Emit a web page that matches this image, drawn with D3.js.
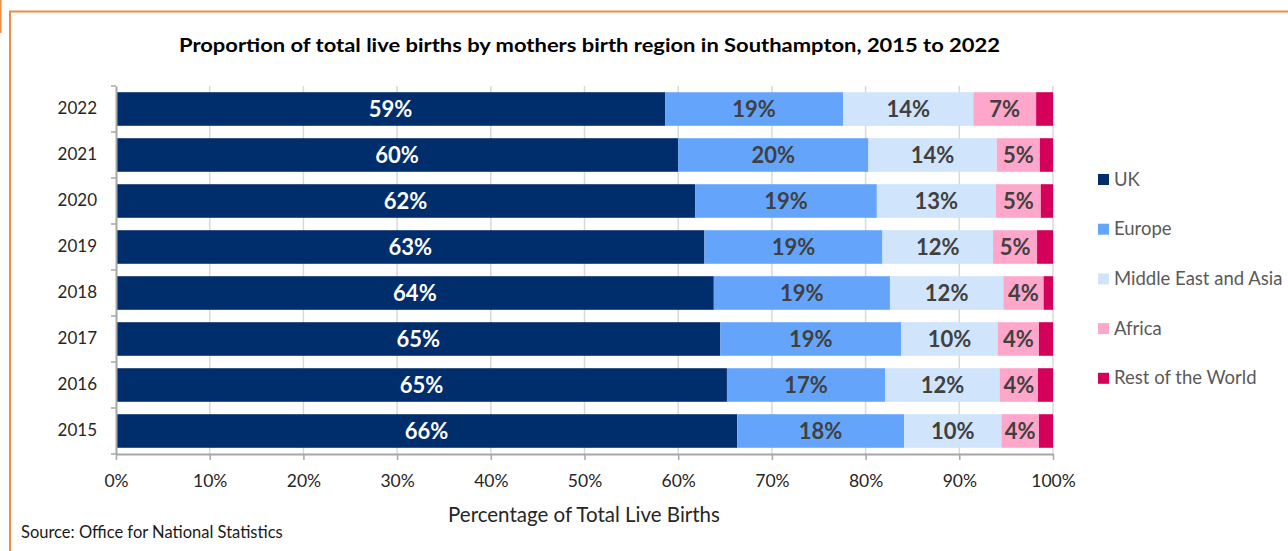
<!DOCTYPE html>
<html>
<head>
<meta charset="utf-8">
<script src="https://cdn.jsdelivr.net/npm/d3@7"></script>
<style>
  body { margin: 0; background: #fff; }
  svg { display: block; font-family: Lato, 'Open Sans', sans-serif; }
</style>
</head>
<body>
<div id="chart"></div>
<script>
// chart data
const years = ['2022', '2021', '2020', '2019', '2018', '2017', '2016', '2015']
const regions = ['UK', 'Europe', 'Middle East and Asia', 'Africa', 'Rest of the World']
const uk = [58.6, 60.0, 61.8, 62.8, 63.8, 64.5, 65.2, 66.3]
const europe = [19.0, 20.3, 19.4, 19.0, 18.8, 19.3, 16.9, 17.8]
const meAsia = [13.9, 13.7, 12.7, 11.8, 12.1, 10.3, 12.2, 10.4]
const africa = [6.7, 4.6, 4.8, 4.7, 4.3, 4.4, 4.1, 4.0]
const rest = [1.8, 1.4, 1.3, 1.7, 1.0, 1.5, 1.6, 1.5]
const xTicks = [0, 10, 20, 30, 40, 50, 60, 70, 80, 90, 100]

const colors = ['#002d6b', '#64a5fb', '#d0e4fb', '#ffa6cb', '#d5005a']
const labelColors = ['#ffffff', '#404040', '#404040', '#404040', null]

const w = 1288
const h = 551

let rows = years.map(function (y, i) {
  return { year: y, UK: uk[i], Europe: europe[i], 'Middle East and Asia': meAsia[i], Africa: africa[i], 'Rest of the World': rest[i] }
})

let svg = d3.select('#chart').append('svg')
  .attr('width', w)
  .attr('height', h)

// orange frame
svg.append('path')
  .attr('d', 'M10,' + h + ' V11.5 H' + w)
  .attr('fill', 'none')
  .attr('stroke', '#f28c45')
  .attr('stroke-width', 2)
svg.append('line')
  .attr('x1', 0.5).attr('x2', 0.5).attr('y1', 0).attr('y2', 33)
  .attr('stroke', '#f28c45')
  .attr('stroke-width', 2)

let x = d3.scaleLinear().domain([0, 100]).range([116, 1053])
let y = d3.scaleBand().domain(years).range([86, 454]).paddingInner(0.27).paddingOuter(0.135)

// gridlines
svg.append('g')
  .selectAll('line')
  .data(xTicks.slice(1))
  .enter().append('line')
  .attr('x1', d => x(d)).attr('x2', d => x(d))
  .attr('y1', 86).attr('y2', 454)
  .attr('stroke', '#d9d9d9')
  .attr('stroke-width', 1.5)

let stack = d3.stack().keys(regions)(rows)

let layer = svg.append('g')
  .selectAll('g')
  .data(stack)
  .enter().append('g')
  .attr('fill', (d, i) => colors[i])

layer.selectAll('rect')
  .data(d => d)
  .enter().append('rect')
  .attr('x', d => x(d[0]))
  .attr('y', d => y(d.data.year))
  .attr('width', d => x(d[1]) - x(d[0]))
  .attr('height', y.bandwidth())

// value labels
stack.forEach(function (s, i) {
  if (!labelColors[i]) return
  svg.append('g')
    .selectAll('text')
    .data(s)
    .enter().append('text')
    .attr('x', d => (x(d[0]) + x(d[1])) / 2)
    .attr('y', d => y(d.data.year) + y.bandwidth() / 2)
    .attr('dy', '0.36em')
    .attr('text-anchor', 'middle')
    .attr('fill', labelColors[i])
    .style('font-size', '22px')
    .style('font-weight', 'bold')
    .text(d => Math.round(d[1] - d[0]) + '%')
})

// axes
let xAxis = svg.append('g')
  .attr('transform', 'translate(0,454)')
  .call(d3.axisBottom(x).tickValues(xTicks).tickFormat(d => d + '%').tickSize(6).tickSizeOuter(0).tickPadding(15))
xAxis.select('.domain').attr('stroke', '#a6a6a6').attr('stroke-width', 2)
xAxis.selectAll('.tick line').attr('stroke', '#a6a6a6').attr('stroke-width', 1.5)
xAxis.selectAll('text').attr('fill', '#262626').style('font-size', '17.5px').style('font-family', 'Lato, sans-serif')

let yAxis = svg.append('g')
  .attr('transform', 'translate(116,0)')
  .call(d3.axisLeft(y).tickSize(0).tickPadding(19))
yAxis.select('.domain').attr('stroke', '#a6a6a6').attr('stroke-width', 2)
yAxis.selectAll('text').attr('fill', '#262626').style('font-size', '17px').style('font-family', 'Lato, sans-serif')

// small ticks between bands on the left axis
let step = y.step()
svg.append('g')
  .selectAll('line')
  .data(d3.range(years.length + 1))
  .enter().append('line')
  .attr('x1', 111).attr('x2', 116)
  .attr('y1', i => 86 + i * step).attr('y2', i => 86 + i * step)
  .attr('stroke', '#a6a6a6')
  .attr('stroke-width', 1.5)

// title
svg.append('text')
  .attr('x', 179).attr('y', 52)
  .attr('textLength', 821)
  .attr('lengthAdjust', 'spacingAndGlyphs')
  .style('font-size', '19px')
  .style('font-weight', 'bold')
  .attr('fill', '#000')
  .text('Proportion of total live births by mothers birth region in Southampton, 2015 to 2022')

// axis title
svg.append('text')
  .attr('x', 584).attr('y', 522)
  .attr('text-anchor', 'middle')
  .attr('fill', '#262626')
  .style('font-size', '20.5px')
  .text('Percentage of Total Live Births')

// source
svg.append('text')
  .attr('x', 21).attr('y', 538)
  .attr('fill', '#1a1a1a')
  .style('font-size', '16.5px')
  .text('Source: Office for National Statistics')

// legend
let legend = svg.append('g')
  .selectAll('g')
  .data(regions)
  .enter().append('g')
  .attr('transform', (d, i) => 'translate(1098,' + (179 + i * 49.7) + ')')
legend.append('rect')
  .attr('x', 0).attr('y', -5)
  .attr('width', 11).attr('height', 11)
  .attr('fill', (d, i) => colors[i])
legend.append('text')
  .attr('x', 16).attr('y', 0)
  .attr('dy', '0.36em')
  .attr('fill', '#595959')
  .style('font-size', '18.5px')
  .text(d => d)
</script>
</body>
</html>
